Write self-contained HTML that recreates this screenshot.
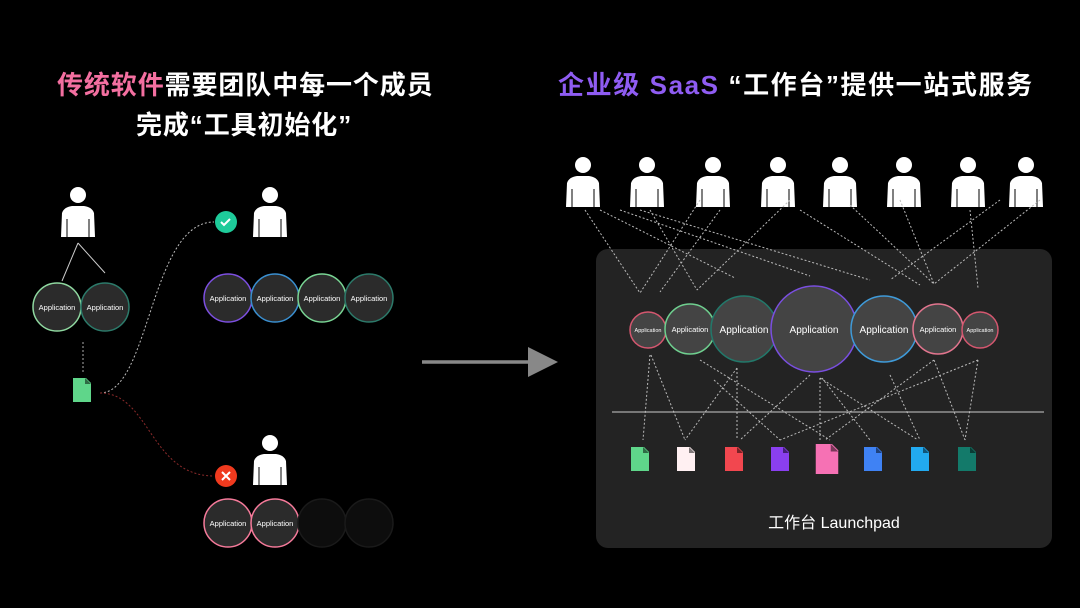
<!DOCTYPE html>
<html><head><meta charset="utf-8"><style>
html,body{margin:0;padding:0;background:#000;}
body{width:1080px;height:608px;overflow:hidden;position:relative;font-family:"Liberation Sans","Noto Sans CJK SC",sans-serif;}
.t{position:absolute;color:#fff;font-weight:700;font-size:26px;white-space:nowrap;letter-spacing:0.9px}
</style></head><body>
<div class="t" style="left:57px;top:65px"><span style="color:#f36fa0">传统软件</span>需要团队中每一个成员</div>
<div class="t" style="left:136px;top:105px">完成“工具初始化”</div>
<div class="t" style="left:558px;top:65px;letter-spacing:1.6px"><span style="color:#8f5cf2">企业级 SaaS</span> “工作台”提供一站式服务</div>
<svg width="1080" height="608" style="position:absolute;left:0;top:0" font-family="Liberation Sans, sans-serif">
<defs>
<g id="p"><circle cx="0" cy="-30" r="8" fill="#fff"/><path d="M-17 12 L-16 -12 Q-14 -18 -6 -19 L6 -19 Q14 -18 16 -12 L17 12 Z" fill="#fff"/><path d="M-11 -6 L-11 12 M11 -6 L11 12" stroke="#000" stroke-width="1"/></g>
<g id="f"><path d="M-9 -12 L4 -12 L9 -7 L9 12 L-9 12 Z"/><path d="M3 -12 L3 -6 L9 -6" fill="#000" opacity=".5"/></g>
</defs>
<rect x="596" y="249" width="456" height="299" rx="12" fill="#232323"/>
<line x1="612" y1="412" x2="1044" y2="412" stroke="#777" stroke-width="2"/>
<use href="#p" x="78" y="225"/>
<line x1="78" y1="243" x2="62" y2="281" stroke="#ccc" stroke-width="1"/>
<line x1="78" y1="243" x2="105" y2="273" stroke="#ccc" stroke-width="1"/>
<g stroke-width="1.5" fill="#2b2b2b" font-size="7.5" text-anchor="middle">
<circle cx="57" cy="307" r="24" stroke="#8fd8a0"/><circle cx="105" cy="307" r="24" stroke="#2c7a6a"/>
<circle cx="228" cy="298" r="24" stroke="#7c4fe0"/><circle cx="275" cy="298" r="24" stroke="#3a8fd0"/><circle cx="322" cy="298" r="24" stroke="#79d594"/><circle cx="369" cy="298" r="24" stroke="#2c7a6a"/>
<circle cx="228" cy="523" r="24" stroke="#f57a9a"/><circle cx="275" cy="523" r="24" stroke="#f57a9a"/>
<circle cx="322" cy="523" r="24" stroke="#1a1a1a" fill="#0d0d0d"/><circle cx="369" cy="523" r="24" stroke="#1a1a1a" fill="#0d0d0d"/>
<g fill="#fff" stroke="none"><text x="57" y="310">Application</text><text x="105" y="310">Application</text>
<text x="228" y="301">Application</text><text x="275" y="301">Application</text><text x="322" y="301">Application</text><text x="369" y="301">Application</text>
<text x="228" y="526">Application</text><text x="275" y="526">Application</text></g></g>
<line x1="83" y1="342" x2="83" y2="372" stroke="#aaa" stroke-dasharray="2 2"/>
<use href="#f" x="82" y="390" fill="#5fd68a"/>
<path d="M100 393 C150 393 150 222 214 222" fill="none" stroke="#bbb" stroke-dasharray="2 2"/>
<path d="M100 393 C150 393 150 476 214 476" fill="none" stroke="#8a2a2a" stroke-dasharray="2 2"/>
<circle cx="226" cy="222" r="11" fill="#1ecb9a"/><path d="M221 222 l3 3 l6 -6" stroke="#fff" stroke-width="2" fill="none"/>
<circle cx="226" cy="476" r="11" fill="#f03a1e"/><path d="M222 472 l8 8 M230 472 l-8 8" stroke="#fff" stroke-width="2"/>
<use href="#p" x="270" y="225"/><use href="#p" x="270" y="473"/>
<line x1="422" y1="362" x2="532" y2="362" stroke="#888" stroke-width="3.5"/>
<path d="M528 347 L558 362 L528 377 Z" fill="#888"/>
<use href="#p" x="583" y="195"/><use href="#p" x="647" y="195"/><use href="#p" x="713" y="195"/><use href="#p" x="778" y="195"/><use href="#p" x="840" y="195"/><use href="#p" x="904" y="195"/><use href="#p" x="968" y="195"/><use href="#p" x="1026" y="195"/>
<g stroke="#bbb" stroke-dasharray="2 2" stroke-width="1" fill="none">
<path d="M585 210 L640 293 M600 210 L735 278 M650 210 L697 290 M700 200 L640 293 M720 210 L660 292 M790 200 L697 290 M640 210 L870 280 M800 210 L920 285 M900 200 L934 284 M850 205 L934 284 M1000 200 L890 280 M970 210 L978 288 M1040 200 L934 284 M620 210 L810 276"/>
<path d="M650 355 L643 440 M651 355 L685 440 M700 360 L830 440 M737 368 L737 440 M737 368 L685 440 M810 375 L740 440 M820 378 L820 440 M822 378 L870 440 M820 378 L918 440 M890 375 L920 440 M934 360 L825 440 M934 360 L965 440 M978 360 L965 440 M978 360 L780 440 M714 380 L780 440"/>
</g>
<g stroke-width="1.5" fill="#444" text-anchor="middle">
<circle cx="648" cy="330" r="18" stroke="#d4576f"/>
<circle cx="690" cy="329" r="25" stroke="#6fcf8f"/>
<circle cx="744" cy="329" r="33" stroke="#22786a"/>
<circle cx="814" cy="329" r="43" stroke="#7a4fe0"/>
<circle cx="884" cy="329" r="33" stroke="#3f9ad8"/>
<circle cx="938" cy="329" r="25" stroke="#e2758e"/>
<circle cx="980" cy="330" r="18" stroke="#d4576f"/>
<g fill="#fff" stroke="none"><text x="648" y="332" font-size="5.5">Application</text><text x="690" y="332" font-size="7.5">Application</text><text x="744" y="333" font-size="10">Application</text><text x="814" y="333" font-size="10">Application</text><text x="884" y="333" font-size="10">Application</text><text x="938" y="332" font-size="7.5">Application</text><text x="980" y="332" font-size="5.5">Application</text></g>
</g>
<use href="#f" x="640" y="459" fill="#5fd68a"/><use href="#f" x="686" y="459" fill="#fff0f2"/><use href="#f" x="734" y="459" fill="#f2474f"/><use href="#f" x="780" y="459" fill="#8a3ff0"/>
<g transform="translate(827 459) scale(1.25)"><use href="#f" fill="#f671b4"/></g>
<use href="#f" x="873" y="459" fill="#3f82f4"/><use href="#f" x="920" y="459" fill="#22aaf0"/><use href="#f" x="967" y="459" fill="#137a6a"/>
<text x="834" y="528" fill="#fff" font-size="16" text-anchor="middle" font-family="Liberation Sans, Noto Sans CJK SC, sans-serif">工作台 Launchpad</text>
</svg>
</body></html>
